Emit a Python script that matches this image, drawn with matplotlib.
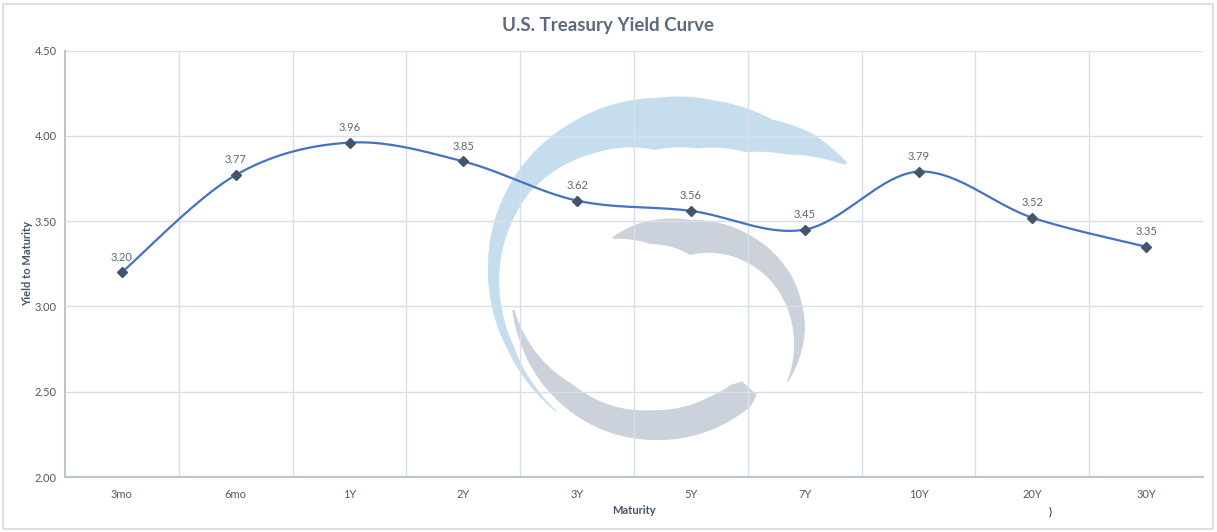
import numpy as np
import matplotlib
matplotlib.use("Agg")
import matplotlib.pyplot as plt
from matplotlib.patches import Polygon, Rectangle

# ---- data ----
maturities = ["3mo", "6mo", "1Y", "2Y", "3Y", "5Y", "7Y", "10Y", "20Y", "30Y"]
yields = [3.20, 3.77, 3.96, 3.85, 3.62, 3.56, 3.45, 3.79, 3.52, 3.35]
y_ticks = [2.00, 2.50, 3.00, 3.50, 4.00, 4.50]
title = "U.S. Treasury Yield Curve"
x_label = "Maturity"
y_label = "Yield to Maturity"

W, H = 1217, 532
FONT = "Lato"
plt.rcParams['font.family'] = [FONT, 'DejaVu Sans']

fig = plt.figure(figsize=(W / 100, H / 100), dpi=100)
fig.patch.set_facecolor("white")

# outer chart border
fig.add_artist(Rectangle((3 / W, 3 / H), (W - 7) / W, (H - 7) / H,
                         transform=fig.transFigure, fill=False,
                         edgecolor="#D9D9D9", linewidth=1.2))

L, R, T, B = 65, 1203, 50.5, 477
ax = fig.add_axes([L / W, 1 - B / H, (R - L) / W, (B - T) / H])

n = len(maturities)
x = np.arange(n)
ax.set_xlim(-0.5, n - 0.5)
ax.set_ylim(y_ticks[0], y_ticks[-1])

grid_c = "#D9DFE8"
for yt in y_ticks[1:]:
    ax.axhline(yt, color=grid_c, lw=1.0, zorder=0)
for xb in np.arange(0.5, n - 0.5, 1.0):
    ax.axvline(xb, color=grid_c, lw=1.0, zorder=0)

for s in ["top", "right"]:
    ax.spines[s].set_visible(False)
ax.spines["left"].set_color("#BFC5CF")
ax.spines["left"].set_linewidth(1.5)
ax.spines["bottom"].set_color("#BFC5CF")
ax.spines["bottom"].set_linewidth(1.5)

ax.set_yticks(y_ticks)
ax.set_yticklabels([f"{v:.2f}" for v in y_ticks])
ax.set_xticks(x)
ax.set_xticklabels(maturities)
ax.tick_params(axis="both", length=0, labelsize=8, colors="#4F5968")
ax.tick_params(axis="x", pad=9)
ax.tick_params(axis="y", pad=6)

# ---- watermark (decorative logo) in pixel space ----
wm = fig.add_axes([0, 0, 1, 1], zorder=0.5)
wm.set_xlim(0, W)
wm.set_ylim(H, 0)
wm.axis("off")
wm.patch.set_alpha(0)


def crescent(cx, cy, table, color):
    phis = np.array([t[0] for t in table], float)
    outs = np.array([t[1] for t in table], float)
    ins = np.array([t[2] for t in table], float)
    ph = np.linspace(phis[0], phis[-1], 200)
    order = np.argsort(phis)
    ro = np.interp(ph, phis[order], outs[order])
    ri = np.interp(ph, phis[order], ins[order])
    rad = np.radians(ph)
    xo, yo = cx + ro * np.cos(rad), cy - ro * np.sin(rad)
    xi, yi = cx + ri * np.cos(rad), cy - ri * np.sin(rad)
    pts = np.vstack([np.column_stack([xo, yo]), np.column_stack([xi, yi])[::-1]])
    wm.add_patch(Polygon(pts, closed=True, facecolor=color, edgecolor="none", alpha=0.85))


crescent(655, 265, [(28, 218, 214), (40, 205, 172), (51, 187, 145), (70, 175, 124),
                    (90, 167, 115), (120, 165, 128), (150, 166, 145), (180, 167, 155),
                    (210, 170, 163), (236, 177, 176)], "#BCD8EB")
crescent(690, 330, [(130, 121, 119), (115, 118, 95), (90, 110, 75), (60, 112, 85),
                    (30, 115, 95), (0, 115, 103), (-28, 111, 110)], "#C3CBD6")
crescent(655, 300, [(184, 143, 141), (200, 141, 132), (225, 140, 118), (270, 140, 110),
                    (300, 142, 111), (312, 143, 114), (317, 139, 119)], "#C3CBD6")

# ---- smoothed line (Catmull-Rom / Bezier like Excel smoothing) ----
xs, ys = [], []
P = np.column_stack([x, yields]).astype(float)
for i in range(n - 1):
    p0 = P[max(i - 1, 0)]
    p1 = P[i]
    p2 = P[i + 1]
    p3 = P[min(i + 2, n - 1)]
    c1 = p1 + (p2 - p0) / 6.0
    c2 = p2 - (p3 - p1) / 6.0
    t = np.linspace(0, 1, 40)[:, None]
    seg = ((1 - t) ** 3) * p1 + 3 * ((1 - t) ** 2) * t * c1 + 3 * (1 - t) * t ** 2 * c2 + t ** 3 * p2
    xs.extend(seg[:, 0])
    ys.extend(seg[:, 1])

ax.set_zorder(1)
ax.patch.set_alpha(0)
ax.plot(xs, ys, color="#4472C4", lw=1.6, zorder=3)
ax.plot(x, yields, linestyle="none", marker="D", markersize=5.5,
        color="#44546A", zorder=4)
for xi, yi in zip(x, yields):
    ax.annotate(f"{yi:.2f}", (xi, yi), xytext=(0, 7), textcoords="offset points",
                ha="center", va="bottom", fontsize=8, color="#5D6777", zorder=5)

ax.set_xlabel(x_label, fontsize=8, fontweight="bold", color="#44546A", labelpad=3)
ax.set_ylabel(y_label, fontsize=8, fontweight="bold", color="#44546A", labelpad=1)

fig.text(0.5, 1 - 25 / H, title, ha="center", va="center",
         fontsize=13.5, fontweight="bold", color="#5A6A80")
fig.text(1050 / W, 1 - 512 / H, ")", ha="center", va="center", fontsize=8, color="#222222")

fig.savefig("out.png", dpi=100, facecolor="white")
